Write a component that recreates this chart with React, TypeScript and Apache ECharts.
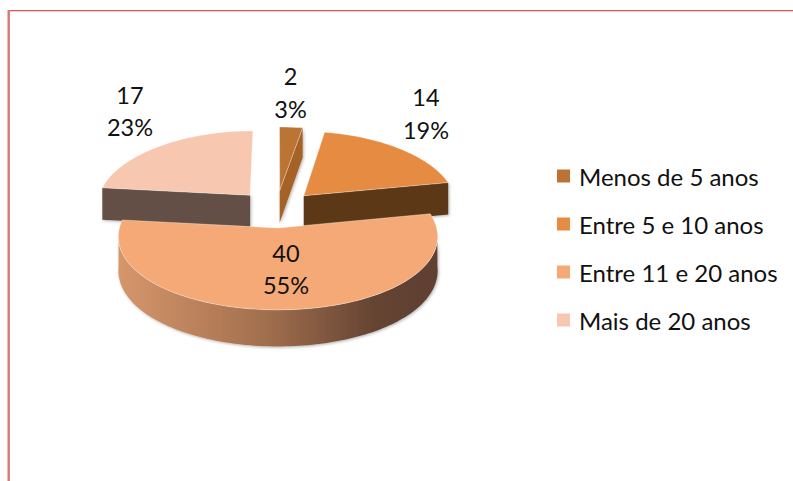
import React, { useEffect, useRef } from "react";
import * as echarts from "echarts";

const categories = ["Menos de 5 anos", "Entre 5 e 10 anos", "Entre 11 e 20 anos", "Mais de 20 anos"];
const values = [2, 14, 40, 17];
const percents = ["3%", "19%", "55%", "23%"];
const topColors = ["#bc7434", "#e68c42", "#f5a976", "#f7c7b0"];
const faceColors = ["#a56228", "#5b3718", "#8a5a3a", "#635044"];
const labelCenters = [[290.5, 92.5], [426, 113.5], [286, 269], [130, 111]];
const slicesZ = [1, 2, 4, 3];

const CX = 278, CY = 228, RX = 158.6, AY = 75, K = 0.084, KX = 0.115, H = 33.5, EXPLODE = 0.26;
const FONT = "Lato, Carlito, sans-serif";
const total = values.reduce((a, b) => a + b, 0);

function project(x: number, y: number, drop = 0) {
  const w = 1 / (1 - K * y);
  const wx = 1 / (1 - KX * y);
  return [CX + RX * x * wx, CY + AY * y * w + H * w * drop];
}

function renderSlice(index: number) {
  return (params: any, api: any) => {
    const value = api.value(0);
    const before = values.slice(0, index).reduce((a, b) => a + b, 0);
    const a0 = (before / total) * Math.PI * 2;
    const a1 = ((before + value) / total) * Math.PI * 2;
    const mid = (a0 + a1) / 2;
    const bigMid = ((values[0] + values[1] + values[2] / 2) / total) * Math.PI * 2;
    const ex = EXPLODE * (Math.sin(mid) - Math.sin(bigMid));
    const ey = EXPLODE * (-Math.cos(mid) + Math.cos(bigMid));
    const steps = Math.max(6, Math.round((a1 - a0) * 40));
    const rim: number[][] = [];
    const rimAngles: number[] = [];
    for (let i = 0; i <= steps; i++) {
      const a = a0 + ((a1 - a0) * i) / steps;
      rimAngles.push(a);
      rim.push([ex + Math.sin(a), ey - Math.cos(a)]);
    }
    const P = (p: number[], d = 0) => project(p[0], p[1], d);
    const apex = [ex, ey];
    const children: any[] = [];
    const shadow = { shadowBlur: 3, shadowColor: "rgba(0,0,0,0.3)", shadowOffsetX: 1, shadowOffsetY: 1 };
    if (index === 2) {
      const front = rim.filter((_, i) => rimAngles[i] > Math.PI / 2 + 0.05 && rimAngles[i] < Math.PI * 1.5 - 0.05);
      const pts = [...front.map((p) => P(p)), ...front.slice().reverse().map((p) => P(p, 1))];
      children.push({
        type: "polygon",
        shape: { points: pts },
        style: {
          ...shadow,
          fill: new echarts.graphic.LinearGradient(0, 0, 1, 0, [
            { offset: 0, color: "#d6966c" },
            { offset: 0.45, color: "#a3704e" },
            { offset: 0.8, color: "#654433" },
            { offset: 1, color: "#5e4030" },
          ]),
        },
      });
    } else {
      const edge = index === 3 ? rim[0] : rim[rim.length - 1];
      const faceEdge = index === 0 ? rim[rim.length - 1] : edge;
      children.push({
        type: "polygon",
        shape: { points: [P(apex), P(faceEdge), P(faceEdge, 1), P(apex, 1)] },
        style: { ...shadow, fill: faceColors[index] },
      });
    }
    children.push({
      type: "polygon",
      shape: { points: [P(apex), ...rim.map((p) => P(p))] },
      style: { fill: topColors[index], stroke: "rgba(255,255,255,0.6)", lineWidth: 0.6 },
    });
    children.push({
      type: "text",
      style: {
        x: labelCenters[index][0],
        y: labelCenters[index][1],
        text: `${value}\n${percents[index]}`,
        fill: "#111111",
        font: `23.5px ${FONT}`,
        align: "center",
        verticalAlign: "middle",
        lineHeight: 32.5,
      },
      z2: 10,
    });
    return { type: "group", children };
  };
}

export default function App() {
  const ref = useRef<HTMLDivElement>(null);
  useEffect(() => {
    document.body.style.margin = "0";
    const chart = echarts.init(ref.current!, null, { renderer: "svg" });
    chart.setOption({
      animation: false,
      backgroundColor: "#ffffff",
      legend: {
        orient: "vertical",
        left: 557,
        top: 164,
        padding: 0,
        icon: "rect",
        itemWidth: 13,
        itemHeight: 13,
        itemGap: 24,
        data: categories,
        selectedMode: false,
        textStyle: { fontFamily: FONT, fontSize: 24, color: "#111111", padding: [0, 0, 0, 4] },
      },
      graphic: [
        { type: "line", shape: { x1: 8, y1: 10.6, x2: 793, y2: 10.6 }, style: { stroke: "#d9534f", lineWidth: 1.4 } },
        { type: "line", shape: { x1: 8.7, y1: 10, x2: 8.7, y2: 481 }, style: { stroke: "#db7674", lineWidth: 2.4 } },
      ],
      series: categories.map((name, i) => ({
        type: "custom",
        name,
        coordinateSystem: "none",
        z: slicesZ[i],
        data: [[values[i]]],
        itemStyle: { color: topColors[i] },
        renderItem: renderSlice(i),
      })),
    });
    return () => chart.dispose();
  }, []);
  return <div ref={ref} style={{ width: 793, height: 481 }} />;
}
